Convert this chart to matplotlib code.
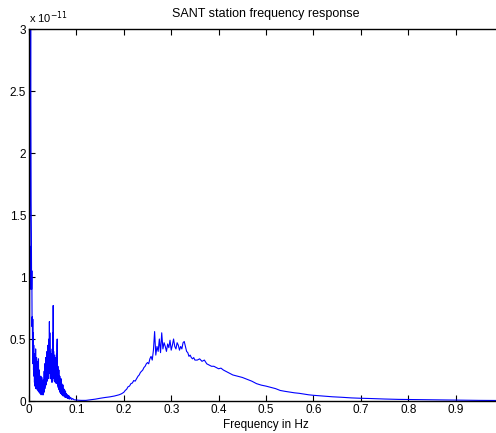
import numpy as np
import matplotlib
matplotlib.use("Agg")
import matplotlib.pyplot as plt

plt.rcParams['font.family'] = ['Liberation Sans', 'DejaVu Sans']

# low-frequency part, 0 - 0.1 Hz (values in units of 1e-11)
freqLow = [0.0000, 0.0010, 0.0015, 0.0020, 0.0025, 0.0030, 0.0035, 0.0040, 0.0045, 0.0050,
           0.0055, 0.0060, 0.0065, 0.0070, 0.0075, 0.0080, 0.0085, 0.0090, 0.0095, 0.0100,
           0.0105, 0.0110, 0.0115, 0.0120, 0.0125, 0.0130, 0.0135, 0.0140, 0.0145, 0.0150,
           0.0155, 0.0160, 0.0165, 0.0170, 0.0175, 0.0180, 0.0185, 0.0190, 0.0195, 0.0200,
           0.0205, 0.0210, 0.0215, 0.0220, 0.0225, 0.0230, 0.0235, 0.0240, 0.0245, 0.0250,
           0.0255, 0.0260, 0.0265, 0.0270, 0.0275, 0.0280, 0.0285, 0.0290, 0.0295, 0.0300,
           0.0305, 0.0310, 0.0315, 0.0320, 0.0325, 0.0330, 0.0335, 0.0340, 0.0345, 0.0350,
           0.0355, 0.0360, 0.0365, 0.0370, 0.0375, 0.0380, 0.0385, 0.0390, 0.0395, 0.0400,
           0.0405, 0.0410, 0.0415, 0.0420, 0.0425, 0.0430, 0.0435, 0.0440, 0.0445, 0.0450,
           0.0455, 0.0460, 0.0465, 0.0470, 0.0475, 0.0480, 0.0485, 0.0490, 0.0495, 0.0500,
           0.0505, 0.0510, 0.0515, 0.0520, 0.0525, 0.0530, 0.0535, 0.0540, 0.0545, 0.0550,
           0.0555, 0.0560, 0.0565, 0.0570, 0.0575, 0.0580, 0.0585, 0.0590, 0.0595, 0.0600,
           0.0605, 0.0610, 0.0615, 0.0620, 0.0625, 0.0630, 0.0635, 0.0640, 0.0645, 0.0650,
           0.0655, 0.0660, 0.0670, 0.0675, 0.0680, 0.0690, 0.0695, 0.0700, 0.0710, 0.0715,
           0.0720, 0.0730, 0.0740, 0.0750, 0.0760, 0.0770, 0.0780, 0.0790, 0.0800, 0.0810,
           0.0820, 0.0830, 0.0840, 0.0850, 0.0860, 0.0880, 0.0900, 0.0920, 0.0950, 0.1000]
ampLow = [0.02, 0.05, 1.25, 0.90, 2.85, 2.40, 3.00, 2.20, 1.60, 1.35,
          0.90, 1.05, 0.60, 0.68, 0.40, 0.66, 0.30, 0.55, 0.25, 0.45,
          0.20, 0.38, 0.15, 0.33, 0.12, 0.30, 0.14, 0.42, 0.10, 0.30,
          0.13, 0.35, 0.11, 0.28, 0.09, 0.32, 0.12, 0.26, 0.08, 0.34,
          0.10, 0.22, 0.07, 0.25, 0.09, 0.20, 0.06, 0.18, 0.08, 0.20,
          0.05, 0.15, 0.07, 0.19, 0.06, 0.14, 0.05, 0.12, 0.06, 0.17,
          0.05, 0.13, 0.07, 0.24, 0.08, 0.30, 0.10, 0.22, 0.12, 0.35,
          0.15, 0.28, 0.13, 0.33, 0.17, 0.40, 0.16, 0.30, 0.20, 0.45,
          0.20, 0.36, 0.18, 0.50, 0.25, 0.64, 0.30, 0.55, 0.22, 0.40,
          0.18, 0.33, 0.20, 0.38, 0.17, 0.30, 0.15, 0.42, 0.20, 0.55,
          0.30, 0.77, 0.28, 0.40, 0.18, 0.33, 0.16, 0.37, 0.20, 0.30,
          0.15, 0.35, 0.17, 0.28, 0.14, 0.38, 0.20, 0.45, 0.50, 0.22,
          0.13, 0.28, 0.11, 0.22, 0.10, 0.25, 0.09, 0.19, 0.08, 0.20,
          0.07, 0.16, 0.06, 0.18, 0.07, 0.14, 0.05, 0.12, 0.05, 0.13,
          0.04, 0.10, 0.04, 0.09, 0.03, 0.08, 0.03, 0.06, 0.025, 0.05,
          0.02, 0.045, 0.018, 0.04, 0.015, 0.03, 0.012, 0.02, 0.01, 0.008]

# valley and rising flank, 0.1 - 0.23 Hz
freqMid = [0.105, 0.11, 0.12, 0.13, 0.14, 0.15, 0.16, 0.17, 0.18, 0.19,
           0.195, 0.20, 0.203, 0.206, 0.209, 0.212, 0.215, 0.218, 0.221, 0.224, 0.227]
ampMid = [0.006, 0.005, 0.005, 0.010, 0.015, 0.022, 0.028, 0.033, 0.040, 0.050,
          0.058, 0.070, 0.085, 0.095, 0.115, 0.120, 0.140, 0.145, 0.165, 0.160, 0.180]

# main hump, 0.23 - 0.35 Hz
freqHump = [0.2300, 0.2325, 0.2350, 0.2375, 0.2400, 0.2425, 0.2450, 0.2475, 0.2500, 0.2525,
            0.2550, 0.2575, 0.2600, 0.2625, 0.2650, 0.2675, 0.2700, 0.2725, 0.2750, 0.2775,
            0.2800, 0.2825, 0.2850, 0.2875, 0.2900, 0.2925, 0.2950, 0.2975, 0.3000, 0.3025,
            0.3050, 0.3075, 0.3100, 0.3125, 0.3150, 0.3175, 0.3200, 0.3225, 0.3250, 0.3275,
            0.3300, 0.3325, 0.3350, 0.3375, 0.3400, 0.3425, 0.3450, 0.3475, 0.3500]
ampHump = [0.20, 0.21, 0.23, 0.24, 0.25, 0.27, 0.28, 0.30, 0.31, 0.30,
           0.34, 0.36, 0.33, 0.41, 0.56, 0.37, 0.44, 0.40, 0.50, 0.39,
           0.55, 0.42, 0.47, 0.44, 0.40, 0.46, 0.43, 0.49, 0.41, 0.45,
           0.50, 0.44, 0.42, 0.47, 0.45, 0.41, 0.44, 0.42, 0.47, 0.48,
           0.44, 0.40, 0.39, 0.36, 0.37, 0.35, 0.34, 0.35, 0.33]

# decaying tail, 0.35 - 1 Hz
freqTail = [0.355, 0.36, 0.365, 0.37, 0.375, 0.38, 0.385, 0.39, 0.395, 0.40,
            0.405, 0.41, 0.42, 0.43, 0.44, 0.45, 0.46, 0.47, 0.48, 0.49,
            0.50, 0.51, 0.52, 0.53, 0.54, 0.55, 0.56, 0.57, 0.58, 0.59,
            0.60, 0.62, 0.64, 0.66, 0.68, 0.70, 0.72, 0.75, 0.78, 0.80,
            0.85, 0.90, 0.95, 1.00]
ampTail = [0.33, 0.34, 0.32, 0.33, 0.30, 0.29, 0.28, 0.28, 0.27, 0.26,
           0.265, 0.25, 0.23, 0.21, 0.20, 0.19, 0.175, 0.16, 0.14, 0.128,
           0.12, 0.11, 0.10, 0.085, 0.078, 0.072, 0.066, 0.062, 0.056, 0.05,
           0.046, 0.04, 0.034, 0.03, 0.025, 0.022, 0.02, 0.016, 0.013, 0.012,
           0.009, 0.007, 0.005, 0.004]

freq = np.array(freqLow + freqMid + freqHump + freqTail)
amp = np.array(ampLow + ampMid + ampHump + ampTail)

fig = plt.figure(figsize=(4.96, 4.33), dpi=100)
# axes run past the right edge of the figure, like the cropped original
ax = fig.add_axes([29 / 496, 32 / 433, 474 / 496, 372 / 433])

ax.plot(freq, amp, color=(0, 0, 1), linewidth=0.8)

ax.set_xlim(0, 1)
ax.set_ylim(0, 3)
ax.set_xticks([0, 0.1, 0.2, 0.3, 0.4, 0.5, 0.6, 0.7, 0.8, 0.9])
ax.set_xticklabels(['0', '0.1', '0.2', '0.3', '0.4', '0.5', '0.6', '0.7', '0.8', '0.9'])
ax.set_yticks([0, 0.5, 1, 1.5, 2, 2.5, 3])
ax.set_yticklabels(['0', '0.5', '1', '1.5', '2', '2.5', '3'])
ax.tick_params(direction='in', top=True, right=False, length=4, width=0.8,
               labelsize=8.5, pad=2, colors='black')
for s in ax.spines.values():
    s.set_linewidth(1.0)

ax.set_title('SANT station frequency response', fontsize=9, pad=9)
ax.set_xlabel('Frequency in Hz', fontsize=8.5, labelpad=2)
ax.text(0.0, 1.008, r'x 10$^{-11}$', transform=ax.transAxes, fontsize=8,
        ha='left', va='bottom')

fig.savefig('out.png', dpi=100)
